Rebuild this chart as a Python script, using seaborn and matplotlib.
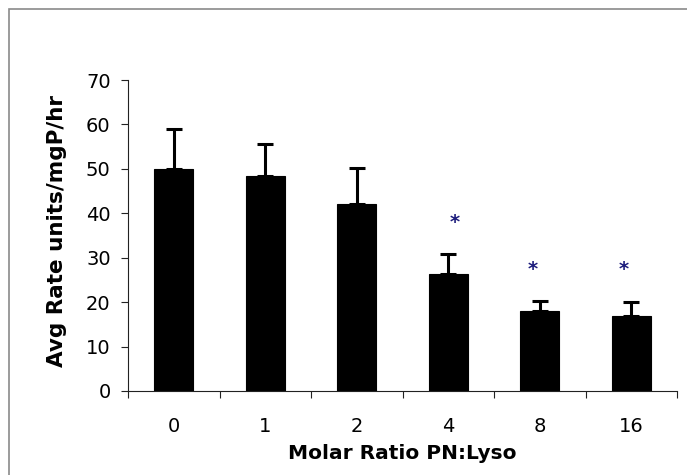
import matplotlib
matplotlib.use("Agg")
import matplotlib.pyplot as plt
import seaborn as sns
import pandas as pd
from matplotlib.patches import Rectangle

# Data
ratios = ["0", "1", "2", "4", "8", "16"]
rates = [50.0, 48.5, 42.1, 26.3, 18.1, 16.9]
err_upper = [9.0, 7.0, 8.0, 4.6, 2.2, 3.2]
star_ratios = ["4", "8", "16"]
star_y = [36.7, 26.1, 26.1]
star_dx = [0.07, -0.08, -0.08]

sns.set_theme(style="white")
plt.rcParams['font.family'] = ['DejaVu Sans']

fig = plt.figure(figsize=(6.87, 4.75), dpi=100)
ax = fig.add_axes([128 / 687, 84 / 475, 549 / 687, 311 / 475])

df = pd.DataFrame({"ratio": ratios, "rate": rates})
sns.barplot(data=df, x="ratio", y="rate", order=ratios, color="black",
            width=0.43, errorbar=None, ax=ax, saturation=1,
            edgecolor="black", linewidth=0.8, zorder=2)
ax.errorbar(range(len(ratios)), rates, yerr=[[0] * len(ratios), err_upper],
            fmt="none", ecolor="black", elinewidth=2.2, capsize=6, capthick=2.2,
            zorder=1)

for r, y, dx in zip(star_ratios, star_y, star_dx):
    ax.text(ratios.index(r) + dx, y, "*", ha="center", va="baseline",
            fontsize=14, fontweight="bold", color="#1c1c7c")

ax.set_xlim(-0.5, len(ratios) - 0.5)
ax.set_ylim(0, 70)
ax.set_yticks(range(0, 71, 10))
ax.set_xticks([i - 0.5 for i in range(len(ratios) + 1)], minor=True)
ax.tick_params(axis="x", which="major", length=0, pad=18.5, labelsize=14,
               labelcolor="black")
ax.tick_params(axis="x", which="minor", length=5, width=0.8, color="#222222",
               direction="out", bottom=True)
ax.tick_params(axis="y", length=5, width=0.8, color="#222222", direction="out",
               left=True, pad=7.5, labelsize=14, labelcolor="black")

for s in ["top", "right"]:
    ax.spines[s].set_visible(False)
for s in ["left", "bottom"]:
    ax.spines[s].set_color("#222222")
    ax.spines[s].set_linewidth(0.8)

ax.set_xlabel("Molar Ratio PN:Lyso", fontsize=14.5, fontweight="bold",
              color="black")
ax.set_ylabel("Avg Rate units/mgP/hr", fontsize=15.5, fontweight="bold",
              color="black")
ax.xaxis.set_label_coords(0.5, -0.2)
ax.xaxis.label.set_va("center")
ax.yaxis.set_label_coords(-0.129, 0.514)
ax.yaxis.label.set_va("center")

fig.add_artist(Rectangle((8.5 / 687, -0.5), 2, 1.5 - 8.5 / 475,
                         transform=fig.transFigure, fill=False,
                         edgecolor="#8a8a8a", linewidth=1.2))

fig.savefig("out.png", dpi=100)
